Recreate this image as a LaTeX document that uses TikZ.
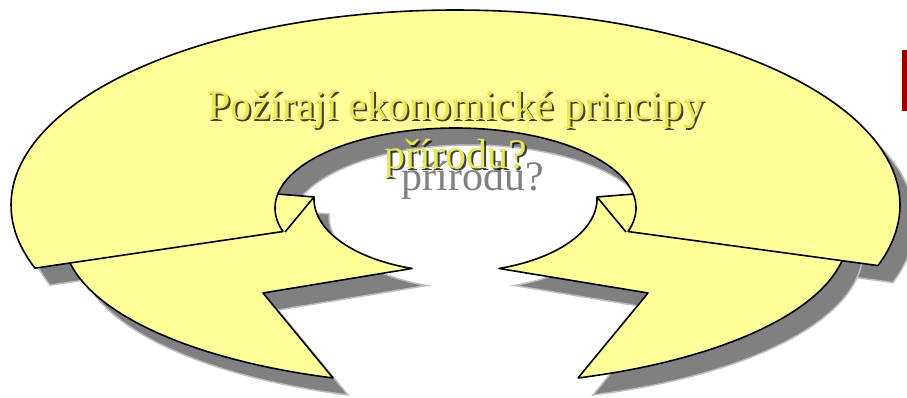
\documentclass[tikz,border=0pt]{standalone}
\usepackage{fontspec}
\setmainfont{Liberation Serif}
\definecolor{bandyellow}{RGB}{255,255,153}
\definecolor{shadowgray}{RGB}{128,128,128}
\definecolor{softgray}{RGB}{190,190,190}
\definecolor{textyellow}{RGB}{232,232,80}
\definecolor{barred}{RGB}{153,0,0}
\begin{document}
\begin{tikzpicture}[x=1pt,y=-1pt,
  band/.style={fill=bandyellow,draw=black,line width=1.6pt,line join=round},
  shade/.style={fill=shadowgray,draw=softgray,line width=1.5pt},
  title/.style={anchor=base,inner sep=0pt,font=\fontsize{42}{50}\selectfont}]
\useasboundingbox (0,0) rectangle (907,398);
% ---------- path definitions ----------
\def\UpperPath{plot[domain=161.1:378.1,samples=160] ({455.5+444.5*cos(\x)},{205+195*sin(\x)})
  -- plot[domain=17.1:-197.1,samples=160] ({455.5+180.5*cos(\x)},{208+80*sin(\x)}) -- cycle}
\def\LowerPath{plot[domain=181.6:107.9,samples=80] ({455.5+141.5*cos(\x)},{199+73*sin(\x)})
  -- (263,293)
  -- plot[domain=108.2:176,samples=100] ({455.5+392.3*cos(\x)},{235+150.5*sin(\x)})
  -- (150,160) -- (268,193.3) -- cycle}
% ---------- shadow ----------
\begin{scope}[shift={(15,17)}]
  \path[shade] \UpperPath;
  \path[shade] \LowerPath;
  \begin{scope}[shift={(911,0)},xscale=-1]
    \path[shade] \LowerPath;
  \end{scope}
\end{scope}
\node[title,text=shadowgray] (s1) at (473,140) {Požírají ekonomické principy};
\node[title,text=shadowgray] (s2) at (473,190) {přírodu?};
% ---------- lower arrows ----------
\path[band] \LowerPath;
\draw[black,line width=1.6pt] (314,197) -- (285,232);
\begin{scope}[shift={(911,0)},xscale=-1]
  \path[band] \LowerPath;
  \draw[black,line width=1.6pt] (314,197) -- (285,232);
\end{scope}
% ---------- upper band ----------
\path[band] \UpperPath;
% ---------- title ----------
\node[title,text=black,opacity=0.75] (d1) at (458,122) {Požírají ekonomické principy};
\node[title,text=black,opacity=0.75] (d2) at (458,171) {přírodu?};
\node[title,text=textyellow] (t1) at (456,120) {Požírají ekonomické principy};
\node[title,text=textyellow] (t2) at (456,169) {přírodu?};
% ---------- red bar ----------
\fill[barred] (902,50) rectangle (907,111);
\end{tikzpicture}
\end{document}
